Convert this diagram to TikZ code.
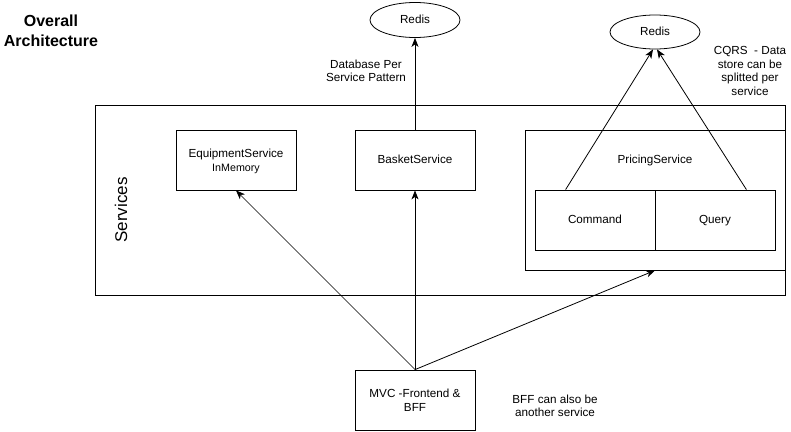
\documentclass[tikz,border=0pt]{standalone}
\usepackage{fontspec}
\setmainfont{Liberation Sans}
\usetikzlibrary{arrows.meta,shapes.geometric}
\begin{document}
\begin{tikzpicture}[x=1pt,y=-1pt,
  box/.style={draw,line width=0.8pt,inner sep=0pt,align=center,font=\fontsize{11.7}{14}\selectfont},
  onebox/.style={box,text height=8.5pt,text depth=2.5pt},
  lbl/.style={inner sep=0pt,align=center,font=\fontsize{11.7}{13.5}\selectfont},
  conn/.style={line width=0.8pt,-{Stealth[length=9pt,width=7pt,inset=2.5pt]}},
  thin/.style={line width=0.55pt,-{Stealth[length=9pt,width=7pt,inset=2.5pt]}}]
\useasboundingbox (0,0) rectangle (791,431);
% title
\node[inner sep=0pt,align=center,font=\bfseries\fontsize{16}{20}\selectfont] (title) at (51,31) {Overall\\Architecture};
% services container
\node[box,minimum width=690pt,minimum height=190pt] (services) at (440,200) {};
\node[inner sep=0pt,rotate=90,font=\fontsize{17}{20}\selectfont] (servlbl) at (121,210) {Services};
% services
\node[box,minimum width=120pt,minimum height=60pt] (equip) at (236,160) {};
\node[lbl] (equiptxt) at (236,154) {EquipmentService};
\node[inner sep=0pt,font=\fontsize{10.7}{13}\selectfont] (inmem) at (236,169) {InMemory};
\node[onebox,minimum width=120pt,minimum height=60pt] (basket) at (415,160) {BasketService};
\node[box,minimum width=260pt,minimum height=140pt] (pricing) at (655,200) {};
\node[lbl,text height=8.5pt,text depth=2.5pt] (pricingtxt) at (655,160) {PricingService};
\node[onebox,minimum width=120pt,minimum height=60pt] (cmd) at (595,220) {Command};
\node[onebox,minimum width=120pt,minimum height=60pt] (query) at (715,220) {Query};
% redis
\node[draw,ellipse,line width=0.8pt,minimum width=90pt,minimum height=35pt,inner sep=0pt,text height=8.5pt,text depth=2.5pt,font=\fontsize{11.7}{14}\selectfont] (redis1) at (415,20) {Redis};
\node[draw,ellipse,line width=0.8pt,minimum width=90pt,minimum height=34pt,inner sep=0pt,text height=8.5pt,text depth=2.5pt,font=\fontsize{11.7}{14}\selectfont] (redis2) at (655,32) {Redis};
% frontend
\node[box,minimum width=120pt,minimum height=60pt] (mvc) at (415,400) {MVC -Frontend \&\\BFF};
% notes
\node[lbl] (dbnote) at (366,71) {Database Per\\Service Pattern};
\node[lbl] (cqrs) at (750,71) {CQRS~ - Data\\store can be\\splitted per\\service};
\node[lbl] (bffnote) at (555,406) {BFF can also be\\another service};
% connectors
\draw[conn] (basket.north) -- (redis1.south);
\draw[conn] ([xshift=31pt]cmd.north west) -- ([xshift=-2pt]redis2.south);
\draw[conn] ([xshift=-29pt]query.north east) -- ([xshift=2pt]redis2.south);
\draw[conn] (mvc.north) -- (basket.south);
\draw[thin] (mvc.north) -- (equip.south);
\draw[conn] (mvc.north) -- (pricing.south);
\end{tikzpicture}
\end{document}
